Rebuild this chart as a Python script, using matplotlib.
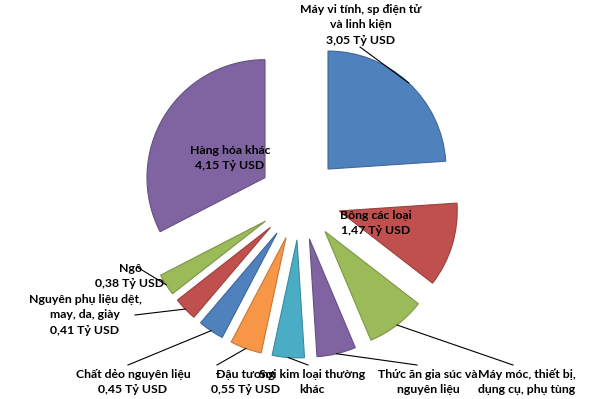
import matplotlib.pyplot as plt
import matplotlib.colors as mcolors
import numpy as np

# --- data (tỷ USD) ---
categories = ['Máy vi tính, sp điện tử\nvà linh kiện', 'Bông các loại',
              'Máy móc, thiết bị,\ndụng cụ, phụ tùng', 'Thức ăn gia súc và\nnguyên liệu',
              'Sợi kim loại thường\nkhác', 'Đậu tương', 'Chất dẻo nguyên liệu',
              'Nguyên phụ liệu dệt,\nmay, da, giày', 'Ngô', 'Hàng hóa khác']
values = [3.05, 1.47, 1.04, 0.68, 0.56, 0.55, 0.45, 0.41, 0.38, 4.15]
value_labels = ['3,05 Tỷ USD', '1,47 Tỷ USD', None, None, None, '0,55 Tỷ USD',
                '0,45 Tỷ USD', '0,41 Tỷ USD', '0,38 Tỷ USD', '4,15 Tỷ USD']

colors = ['#4F81BD', '#C0504D', '#9BBB59', '#8064A2', '#4BACC6', '#F79646',
          '#4F81BD', '#C0504D', '#9BBB59', '#8064A2']

# --- layout (pixel-like coordinates, y up) ---
W, H = 600, 399
CENTER = (300, 200)
R = 118
EXPLODE = 41

# label centre positions and leader line ends (None = no leader)
label_pos = [(361, 374), (376, 176), (527, 17), (428, 17), (312, 17), (246, 17),
             (133, 17), (85, 84), (130, 123), (230, 241)]
leader_end = [(360, 352), None, (513, 34), (417, 34), (308, 34), (217, 34),
              (128, 34), (135, 84), (137, 132), None]

fig = plt.figure(figsize=(6, 3.99), dpi=100)
ax = fig.add_axes([0, 0, 1, 1])

wedges, _ = ax.pie(values, colors=colors, startangle=90, counterclock=False,
                   radius=R, center=CENTER, explode=[EXPLODE] * len(values),
                   wedgeprops=dict(linewidth=0.8), frame=True)
ax.set_xlim(0, W)
ax.set_ylim(0, H)
ax.set_aspect('equal')
ax.axis('off')

# slightly darker outline like the Excel style
for w, c in zip(wedges, colors):
    dark = np.array(mcolors.to_rgb(c)) * 0.8
    w.set_edgecolor(dark)

font = dict(family=['Lato', 'DejaVu Sans'], fontsize=8.8,
            fontweight='bold', color='black')

for i, w in enumerate(wedges):
    txt = categories[i]
    if value_labels[i]:
        txt += '\n' + value_labels[i]
    x, y = label_pos[i]
    ax.text(x, y, txt, ha='center', va='center', linespacing=1.45, **font)
    if leader_end[i] is not None:
        mid = np.deg2rad((w.theta1 + w.theta2) / 2)
        cx, cy = w.center
        ax_pt = (cx + R * np.cos(mid), cy + R * np.sin(mid))
        ex, ey = leader_end[i]
        ax.plot([ax_pt[0], ex], [ax_pt[1], ey], color='black', lw=0.8)

fig.savefig('out.png', dpi=100)
